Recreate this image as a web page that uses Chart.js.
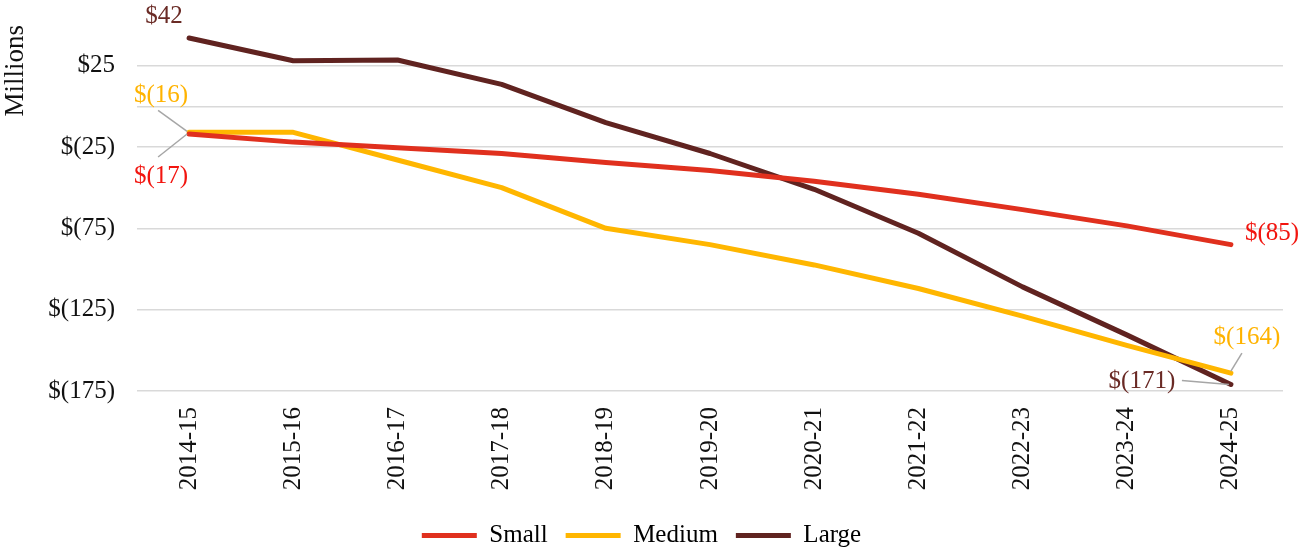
<!DOCTYPE html>
<html>
<head>
<meta charset="utf-8">
<script src="https://cdn.jsdelivr.net/npm/chart.js@4"></script>
<style>
  html, body { margin: 0; padding: 0; background: #fff; }
  #wrap { width: 1315px; height: 550px; }
</style>
</head>
<body>
<div id="wrap"><canvas id="chart"></canvas></div>
<script>
var years = ['2014-15', '2015-16', '2016-17', '2017-18', '2018-19', '2019-20', '2020-21', '2021-22', '2022-23', '2023-24', '2024-25'];
var small = [-17, -22, -25.5, -29, -34.5, -39.5, -46, -54, -63.5, -73.5, -85];
var medium = [-16, -16, -33, -50, -75, -85, -97.5, -112, -129, -147, -164];
var large = [42, 28, 28.5, 13.5, -10, -29, -51, -78, -111, -140.5, -171];

var gridValues = [25, 0, -25, -75, -125, -175];
var labelValues = [25, -25, -75, -125, -175];

var FONT = "'Liberation Serif', Georgia, serif";

function money(v) {
    v = Math.round(v);
    return v < 0 ? '$(' + Math.abs(v) + ')' : '$' + v;
}

// end labels: [dataset, index, text dx, dy, align, leader line (x1,y1,x2,y2) or null]
var endLabels = [
    [2, 0, -25, -22, 'center', null],
    [1, 0, -28, -37, 'center', [-31, -22, -2, -1]],
    [0, 0, -28, 42, 'center', [-31, 23, -2, 0]],
    [0, 10, 14, -11, 'left', null],
    [1, 10, 16, -36, 'center', [11, -20, 0, -2]],
    [2, 10, -89, -3, 'center', [-49, -4, -2, 0]]
];
var labelColors = ['#f2150f', '#ffb300', '#6a2a25'];

var endLabelPlugin = {
    id: 'endLabels',
    afterDatasetsDraw: function (chart) {
        var ctx = chart.ctx;
        ctx.save();
        ctx.font = '25px ' + FONT;
        ctx.textBaseline = 'middle';
        endLabels.forEach(function (l) {
            var pt = chart.getDatasetMeta(l[0]).data[l[1]];
            var val = chart.data.datasets[l[0]].data[l[1]];
            if (l[5]) {
                ctx.strokeStyle = '#a6a6a6';
                ctx.lineWidth = 1.5;
                ctx.beginPath();
                ctx.moveTo(pt.x + l[5][0], pt.y + l[5][1]);
                ctx.lineTo(pt.x + l[5][2], pt.y + l[5][3]);
                ctx.stroke();
            }
            ctx.fillStyle = labelColors[l[0]];
            ctx.textAlign = l[4];
            ctx.fillText(money(val), pt.x + l[2], pt.y + l[3]);
        });
        ctx.restore();
    }
};

new Chart(document.getElementById('chart'), {
    type: 'line',
    data: {
        labels: years,
        datasets: [
            { label: 'Small', data: small, borderColor: '#e0301e', backgroundColor: '#e0301e' },
            { label: 'Medium', data: medium, borderColor: '#ffb600', backgroundColor: '#ffb600' },
            { label: 'Large', data: large, borderColor: '#602320', backgroundColor: '#602320' }
        ]
    },
    options: {
        responsive: true,
        maintainAspectRatio: false,
        animation: false,
        devicePixelRatio: 1,
        elements: {
            line: { borderWidth: 5, tension: 0, borderCapStyle: 'round', borderJoinStyle: 'round' },
            point: { radius: 0, hoverRadius: 0 }
        },
        layout: { padding: { top: 25, right: 32, left: 0, bottom: -8 } },
        plugins: {
            tooltip: { enabled: false },
            legend: {
                position: 'bottom',
                labels: {
                    font: { family: FONT, size: 25 },
                    color: '#111',
                    boxWidth: 55,
                    boxHeight: 5,
                    padding: 18,
                    generateLabels: function (chart) {
                        return chart.data.datasets.map(function (ds, i) {
                            return {
                                text: ds.label,
                                fillStyle: ds.borderColor,
                                strokeStyle: ds.borderColor,
                                lineWidth: 0,
                                datasetIndex: i
                            };
                        });
                    }
                }
            }
        },
        scales: {
            x: {
                offset: true,
                grid: { display: false },
                border: { display: false },
                ticks: {
                    font: { family: FONT, size: 25 },
                    color: '#111',
                    maxRotation: 90,
                    minRotation: 90,
                    padding: 8
                },
                afterFit: function (scale) { scale.height = 114; }
            },
            y: {
                min: -175,
                max: 50,
                border: { display: false },
                grid: {
                    drawTicks: false,
                    lineWidth: 1.5,
                    color: function (c) {
                        return gridValues.indexOf(c.tick.value) >= 0 ? '#d9d9d9' : 'rgba(0,0,0,0)';
                    }
                },
                ticks: {
                    stepSize: 25,
                    padding: 22,
                    font: { family: FONT, size: 25 },
                    color: '#111',
                    callback: function (v) {
                        return labelValues.indexOf(v) >= 0 ? money(v) : '';
                    }
                },
                title: {
                    display: true,
                    text: 'Millions',
                    align: 'end',
                    font: { family: FONT, size: 27 },
                    color: '#111',
                    padding: { top: 0, bottom: 0 }
                },
                afterFit: function (scale) {
                    scale.width = 137;
                    scale.paddingTop = 0;
                    scale.paddingBottom = 0;
                }
            }
        }
    },
    plugins: [endLabelPlugin]
});
</script>
</body>
</html>
